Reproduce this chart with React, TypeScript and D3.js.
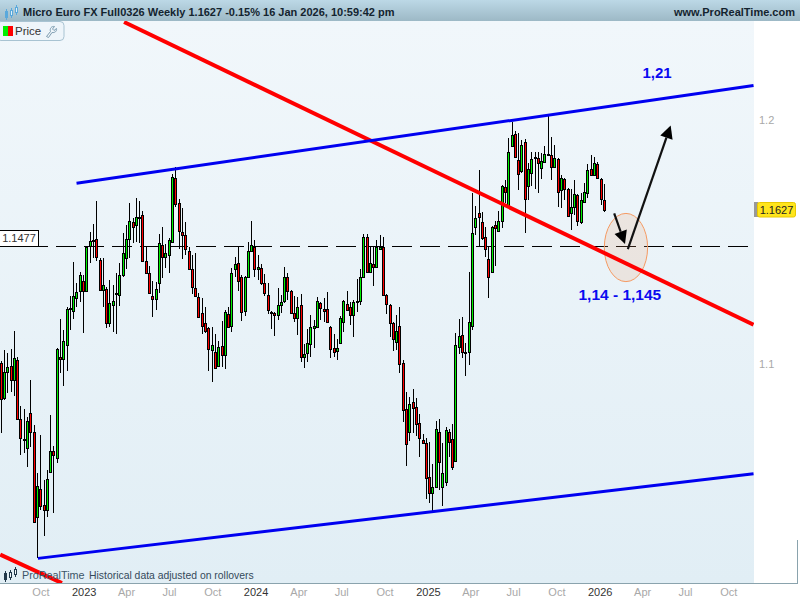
import React from 'react';
import * as d3 from 'd3';

// weekly candles, last one is 16 Jan 2026
const lastWeek = '2026-01-16';
const opens = [1.1009,1.0873,1.0974,1.0998,1.0943,1.1021,1.0792,1.0711,1.0681,1.0815,1.0741,1.0421,1.0526,1.0466,1.0447,1.0590,1.0669,1.0643,1.1033,1.1025,1.1080,1.1227,1.1215,1.1267,1.1295,1.1335,1.1295,1.1477,1.1498,1.1506,1.1420,1.1299,1.1303,1.1167,1.1239,1.1287,1.1279,1.1359,1.1428,1.1506,1.1576,1.1563,1.1592,1.1604,1.1416,1.1367,1.1275,1.1263,1.1327,1.1481,1.1432,1.1441,1.1494,1.1758,1.1654,1.1535,1.1522,1.1457,1.1383,1.1307,1.1271,1.1207,1.1167,1.1147,1.1060,1.1052,1.0998,1.1076,1.1040,1.1203,1.1155,1.1383,1.1408,1.1351,1.1215,1.1351,1.1457,1.1473,1.1383,1.1387,1.1327,1.1279,1.1207,1.1207,1.1199,1.1239,1.1255,1.1351,1.1295,1.1207,1.1187,1.1239,1.1033,1.1048,1.1084,1.1147,1.1151,1.1247,1.1223,1.1223,1.1151,1.1068,1.1056,1.1088,1.1171,1.1243,1.1231,1.1199,1.1253,1.1255,1.1351,1.1514,1.1371,1.1404,1.1391,1.1465,1.1473,1.1279,1.1239,1.1167,1.1092,1.1155,1.1009,1.0830,1.0741,1.0857,1.0838,1.0776,1.0711,1.0700,1.0570,1.0511,1.0533,1.0741,1.0533,1.0552,1.0741,1.0715,1.0631,1.1072,1.1119,1.1052,1.1052,1.1155,1.1555,1.1613,1.1576,1.1514,1.1424,1.1371,1.1563,1.1539,1.1580,1.1720,1.1646,1.1893,1.1944,1.1834,1.1788,1.1910,1.1725,1.1779,1.1844,1.1842,1.1800,1.1825,1.1857,1.1855,1.1805,1.1838,1.1708,1.1754,1.1712,1.1613,1.1637,1.1687,1.1576,1.1658,1.1696,1.1796,1.1771,1.1817,1.1754,1.1667];
const highs = [1.1017,1.1060,1.1048,1.1064,1.1135,1.1033,1.0842,1.0830,1.0796,1.0943,1.0768,1.0586,1.0730,1.0559,1.0597,1.0807,1.0688,1.1068,1.1183,1.1139,1.1231,1.1275,1.1412,1.1327,1.1371,1.1359,1.1477,1.1535,1.1567,1.1663,1.1428,1.1428,1.1311,1.1339,1.1319,1.1367,1.1408,1.1531,1.1563,1.1654,1.1592,1.1675,1.1663,1.1621,1.1473,1.1395,1.1335,1.1331,1.1527,1.1555,1.1486,1.1510,1.1775,1.1805,1.1671,1.1633,1.1576,1.1473,1.1441,1.1449,1.1287,1.1267,1.1231,1.1151,1.1151,1.1123,1.1096,1.1175,1.1219,1.1231,1.1387,1.1432,1.1473,1.1359,1.1355,1.1494,1.1580,1.1502,1.1441,1.1404,1.1363,1.1327,1.1215,1.1211,1.1307,1.1279,1.1391,1.1367,1.1299,1.1275,1.1271,1.1283,1.1084,1.1143,1.1199,1.1179,1.1271,1.1251,1.1267,1.1291,1.1155,1.1123,1.1104,1.1195,1.1259,1.1295,1.1251,1.1259,1.1343,1.1383,1.1527,1.1527,1.1473,1.1473,1.1502,1.1522,1.1514,1.1283,1.1243,1.1171,1.1199,1.1231,1.1021,1.0896,1.0877,1.0908,1.0873,1.0811,1.0734,1.0719,1.0703,1.0620,1.0784,1.0792,1.0700,1.0761,1.0753,1.0772,1.1127,1.1183,1.1191,1.1088,1.1371,1.1696,1.1642,1.1792,1.1617,1.1555,1.1473,1.1559,1.1580,1.1621,1.1729,1.1750,1.1927,1.1995,1.1957,1.1948,1.1919,1.1923,1.1821,1.1868,1.1868,1.1868,1.1863,1.1893,1.2030,1.1932,1.1897,1.1842,1.1771,1.1758,1.1716,1.1712,1.1750,1.1691,1.1696,1.1737,1.1817,1.1855,1.1847,1.1825,1.1758,1.1733];
const lows = [1.0738,1.0865,1.0892,1.0896,1.0881,1.0792,1.0654,1.0662,1.0608,1.0684,1.0399,1.0267,1.0447,1.0351,1.0421,1.0586,1.0436,1.0624,1.0970,1.0916,1.0978,1.1139,1.1183,1.1231,1.1251,1.1127,1.1291,1.1408,1.1428,1.1416,1.1295,1.1231,1.1147,1.1151,1.1131,1.1123,1.1235,1.1351,1.1383,1.1428,1.1490,1.1494,1.1490,1.1412,1.1363,1.1287,1.1191,1.1219,1.1287,1.1347,1.1387,1.1367,1.1490,1.1637,1.1465,1.1424,1.1441,1.1379,1.1283,1.1271,1.1191,1.1123,1.1127,1.0978,1.0935,1.0986,1.0994,1.0994,1.0986,1.1147,1.1131,1.1351,1.1295,1.1175,1.1195,1.1347,1.1453,1.1351,1.1339,1.1319,1.1275,1.1203,1.1143,1.1115,1.1179,1.1207,1.1247,1.1259,1.1207,1.1171,1.1119,1.1013,1.0990,1.1013,1.1033,1.1068,1.1147,1.1179,1.1171,1.1167,1.1029,1.1033,1.1021,1.1084,1.1131,1.1215,1.1159,1.1111,1.1211,1.1239,1.1347,1.1367,1.1367,1.1315,1.1387,1.1461,1.1275,1.1203,1.1111,1.1056,1.1060,1.0970,1.0780,1.0612,1.0707,1.0738,1.0726,1.0646,1.0696,1.0488,1.0473,1.0443,1.0530,1.0522,1.0462,1.0537,1.0646,1.0597,1.0627,1.1044,1.1029,1.0958,1.1001,1.1139,1.1522,1.1473,1.1502,1.1432,1.1267,1.1367,1.1395,1.1535,1.1551,1.1654,1.1642,1.1889,1.1847,1.1708,1.1779,1.1531,1.1667,1.1725,1.1712,1.1696,1.1754,1.1821,1.1855,1.1750,1.1800,1.1637,1.1633,1.1667,1.1596,1.1543,1.1604,1.1559,1.1567,1.1654,1.1675,1.1767,1.1767,1.1754,1.1646,1.1617];
const closes = [1.0869,1.0974,1.0994,1.0943,1.1029,1.0792,1.0719,1.0715,1.0784,1.0741,1.0403,1.0537,1.0462,1.0447,1.0563,1.0669,1.0654,1.1064,1.1025,1.1096,1.1223,1.1223,1.1275,1.1291,1.1359,1.1295,1.1473,1.1498,1.1502,1.1432,1.1299,1.1319,1.1167,1.1247,1.1255,1.1283,1.1359,1.1449,1.1506,1.1580,1.1555,1.1596,1.1596,1.1416,1.1367,1.1287,1.1263,1.1303,1.1490,1.1432,1.1449,1.1502,1.1763,1.1650,1.1539,1.1522,1.1465,1.1383,1.1311,1.1275,1.1191,1.1155,1.1135,1.1064,1.1080,1.0990,1.1072,1.1040,1.1211,1.1151,1.1367,1.1404,1.1335,1.1211,1.1351,1.1457,1.1481,1.1383,1.1391,1.1327,1.1287,1.1219,1.1211,1.1199,1.1239,1.1251,1.1351,1.1295,1.1207,1.1187,1.1231,1.1033,1.1044,1.1088,1.1151,1.1155,1.1255,1.1227,1.1215,1.1171,1.1064,1.1052,1.1068,1.1187,1.1255,1.1219,1.1199,1.1251,1.1255,1.1351,1.1514,1.1371,1.1408,1.1391,1.1473,1.1473,1.1279,1.1243,1.1167,1.1104,1.1135,1.1005,1.0826,1.0696,1.0850,1.0834,1.0772,1.0719,1.0700,1.0567,1.0511,1.0533,1.0753,1.0627,1.0586,1.0749,1.0703,1.0608,1.1080,1.1115,1.1052,1.1048,1.1171,1.1531,1.1592,1.1596,1.1510,1.1465,1.1351,1.1555,1.1551,1.1580,1.1725,1.1700,1.1868,1.1940,1.1847,1.1775,1.1897,1.1671,1.1796,1.1838,1.1847,1.1821,1.1830,1.1859,1.1859,1.1805,1.1842,1.1700,1.1758,1.1712,1.1600,1.1637,1.1691,1.1580,1.1667,1.1700,1.1792,1.1771,1.1821,1.1758,1.1671,1.1627];

// overlays drawn on the chart, [date, price]
const redUpper: [string, number][] = [['2023-04-02', 1.2431], ['2026-11-29', 1.1159]];
const redLower: [string, number][] = [['2022-07-13', 1.0281], ['2022-11-21', 1.0177]];
const blueUpper: [string, number][] = [['2022-12-22', 1.1737], ['2026-11-29', 1.2153]];
const blueLower: [string, number][] = [['2022-10-01', 1.0267], ['2026-11-29', 1.0582]];
const arrowDown: [string, number][] = [['2026-02-06', 1.1611], ['2026-03-01', 1.1485]];
const arrowUp: [string, number][] = [['2026-03-07', 1.1464], ['2026-06-06', 1.1981]];
const zoneDates = ['2026-01-16', '2026-04-18'];
const zonePrices = [1.1611, 1.1332];

const priceLevel = 1.1477;
const lastPrice = 1.1627;
const yTicks = [1.2, 1.1];
const xTickDates = ['2022-10-01','2023-01-01','2023-04-01','2023-07-01','2023-10-01','2024-01-01','2024-04-01','2024-07-01','2024-10-01','2025-01-01','2025-04-01','2025-07-01','2025-10-01','2026-01-01','2026-04-01','2026-07-01','2026-10-01'];
const xTickLabels = ['Oct','2023','Apr','Jul','Oct','2024','Apr','Jul','Oct','2025','Apr','Jul','Oct','2026','Apr','Jul','Oct'];

const W = 800;
const H = 600;
const plotW = 754;
const plotTop = 21;
const plotBottom = 583;
const FONT = '"Liberation Sans", Arial, sans-serif';

const d = (s: string) => new Date(s + 'T00:00:00Z');
const last = d(lastWeek);
const weeks = opens.map((_, i) => d3.utcDay.offset(last, -7 * (opens.length - 1 - i)));

const x = d3.scaleUtc().domain([weeks[0], last]).range([1.2, 604.3]);
const y = d3.scaleLog().domain([1.2, 1.1]).range([121, 365]);

const pt = (p: [string, number]): [number, number] => [x(d(p[0])), y(p[1])];
const lineGen = d3.line();

function Arrow({ pts }: { pts: [string, number][] }) {
  const [a, b] = pts.map(pt);
  const ang = Math.atan2(b[1] - a[1], b[0] - a[0]);
  const len = 13;
  const hw = 6.5;
  const bx = b[0] - len * Math.cos(ang);
  const by = b[1] - len * Math.sin(ang);
  const head: [number, number][] = [
    b,
    [bx - hw * Math.sin(ang), by + hw * Math.cos(ang)],
    [bx + hw * Math.sin(ang), by - hw * Math.cos(ang)],
  ];
  return (
    <g>
      <path d={lineGen([a, [bx, by]]) || ''} stroke="#111" strokeWidth={2.2} fill="none" />
      <path d={(lineGen(head) || '') + 'Z'} fill="#000" />
    </g>
  );
}

function MiniCandles({ tx, ty, color, fill }: { tx: number; ty: number; color: string; fill: string }) {
  return (
    <g transform={`translate(${tx},${ty})`} stroke={color} fill={fill} strokeWidth={1}>
      <path d="M1.5 4V15M6.5 3V13M11.5 0V10" fill="none" />
      <rect x={0.5} y={6.5} width={2} height={6} fill={color} />
      <rect x={5.5} y={5.5} width={2} height={5} />
      <rect x={10.5} y={2.5} width={2} height={5} />
    </g>
  );
}

export default function App() {
  const [zx0, zx1] = zoneDates.map((s) => x(d(s)));
  const [zy0, zy1] = zonePrices.map((p) => y(p));
  const levelY = Math.round(y(priceLevel)) + 0.5;

  return (
    <svg width={W} height={H} style={{ position: 'absolute', left: 0, top: 0, background: '#fff' }} fontFamily={FONT}>
      <defs>
        <linearGradient id="plotBg" x1="0" y1="0" x2="0" y2="1">
          <stop offset="0" stopColor="#f1f7fb" />
          <stop offset="1" stopColor="#e1eef5" />
        </linearGradient>
        <linearGradient id="titleBg" x1="0" y1="0" x2="0" y2="1">
          <stop offset="0" stopColor="#bcd8e6" />
          <stop offset="1" stopColor="#9db9c6" />
        </linearGradient>
        <clipPath id="plotClip">
          <rect x={0} y={plotTop} width={plotW} height={plotBottom - plotTop} />
        </clipPath>
      </defs>

      <rect x={0} y={plotTop} width={plotW} height={plotBottom - plotTop} fill="url(#plotBg)" />

      <g clipPath="url(#plotClip)">
        <path
          d={`M0 ${levelY}H748`}
          stroke="#000"
          strokeWidth={1}
          strokeDasharray="20 8"
          shapeRendering="crispEdges"
        />
        {/* candles */}
        <g shapeRendering="crispEdges">
          {weeks.map((w, i) => {
            const cx = Math.floor(x(w));
            const up = closes[i] >= opens[i];
            const top = y(Math.max(opens[i], closes[i]));
            const bot = y(Math.min(opens[i], closes[i]));
            return (
              <g key={i}>
                <line x1={cx + 0.5} x2={cx + 0.5} y1={y(highs[i])} y2={y(lows[i])} stroke="#000" />
                <rect
                  x={cx - 0.5}
                  y={Math.round(top) + 0.5}
                  width={2}
                  height={Math.max(Math.round(bot - top), 1)}
                  fill={up ? '#00f000' : '#ff0000'}
                  stroke="#000"
                />
              </g>
            );
          })}
        </g>

        <ellipse
          cx={(zx0 + zx1) / 2}
          cy={(zy0 + zy1) / 2}
          rx={(zx1 - zx0) / 2}
          ry={(zy1 - zy0) / 2}
          fill="#f0a070"
          fillOpacity={0.18}
          stroke="#f59a62"
          strokeWidth={1}
        />

        <path d={lineGen(redUpper.map(pt)) || ''} stroke="#ff0000" strokeWidth={4} fill="none" />
        <path d={lineGen(redLower.map(pt)) || ''} stroke="#ff0000" strokeWidth={4} fill="none" />
        <path d={lineGen(blueUpper.map(pt)) || ''} stroke="#0000f0" strokeWidth={3} fill="none" />
        <path d={lineGen(blueLower.map(pt)) || ''} stroke="#0000f0" strokeWidth={3} fill="none" />

        <Arrow pts={arrowDown} />
        <Arrow pts={arrowUp} />

        <text x={x(d('2026-05-08'))} y={y(1.2207)} dy="0.35em" textAnchor="middle" fontSize={15} fontWeight="bold" fill="#0a0af0">1,21</text>
        <text x={x(d('2026-02-18'))} y={y(1.1279)} dy="0.35em" textAnchor="middle" fontSize={15.5} fontWeight="bold" fill="#0a0af0">1,14 - 1,145</text>
      </g>

      {/* level tag on the left */}
      <rect x={-1} y={230.5} width={39.5} height={16} fill="#fff" stroke="#000" shapeRendering="crispEdges" />
      <text x={19} y={242} textAnchor="middle" fontSize={11} fill="#333">{priceLevel.toFixed(4)}</text>

      {/* header */}
      <rect x={0} y={0} width={W} height={plotTop} fill="url(#titleBg)" />
      <MiniCandles tx={5} ty={5} color="#5aa9dc" fill="#dff0fa" />
      <text x={23} y={16} fontSize={11} fontWeight="bold" fill="#14242f">
        Micro Euro FX Full0326 Weekly 1.1627 -0.15% 16 Jan 2026, 10:59:42 pm
      </text>
      <text x={795} y={16} fontSize={11} fontWeight="bold" fill="#14242f" textAnchor="end">www.ProRealTime.com</text>

      {/* price pill */}
      <rect x={-3} y={21.5} width={67} height={19} rx={4} fill="#eef5fa" stroke="#a8c3d2" />
      <rect x={3} y={26} width={5} height={10} fill="#00f000" />
      <rect x={8} y={26} width={5} height={10} fill="#ff0000" />
      <text x={15} y={35} fontSize={11.5} fill="#333">Price</text>
      <path
        d="M46.5 36.5L50.5 31.5C49.5 28.5 51.5 26 54.5 26.5L52.5 29L54 30.5L56.5 28.5C57 31.5 54.5 33 52 32.5L48.5 37.5Z"
        fill="none"
        stroke="#7d9cb0"
        strokeWidth={1}
      />

      {/* footer */}
      <MiniCandles tx={4} ty={567} color="#21384a" fill="#f5f9fb" />
      <text x={22} y={579} fontSize={10.8} fill="#3c5568">ProRealTime</text>
      <text x={89} y={579} fontSize={10.4} fill="#34495a">Historical data adjusted on rollovers</text>

      {/* axes */}
      <path d={`M0 ${plotBottom + 0.5}H797.5V540`} stroke="#8aa3ad" fill="none" shapeRendering="crispEdges" />
      {xTickDates.map((t, i) => {
        const isYear = xTickLabels[i].length === 4;
        return (
          <text key={t} x={x(d(t)) + 3} y={596} textAnchor="middle" fontSize={11} fill={isYear ? '#333' : '#a8a8a8'}>
            {xTickLabels[i]}
          </text>
        );
      })}
      {yTicks.map((t) => (
        <text key={t} x={759} y={y(t) + 3} fontSize={11} fill="#a8a8a8">
          {t.toFixed(1)}
        </text>
      ))}

      {/* last price tag */}
      <rect x={754} y={202} width={4} height={15} fill="#999" />
      <rect x={757.5} y={202.5} width={38} height={14.5} rx={2} fill="#ffe51c" stroke="#e8c800" />
      <text x={776.5} y={213.5} textAnchor="middle" fontSize={11} fill="#222">{lastPrice.toFixed(4)}</text>
    </svg>
  );
}
